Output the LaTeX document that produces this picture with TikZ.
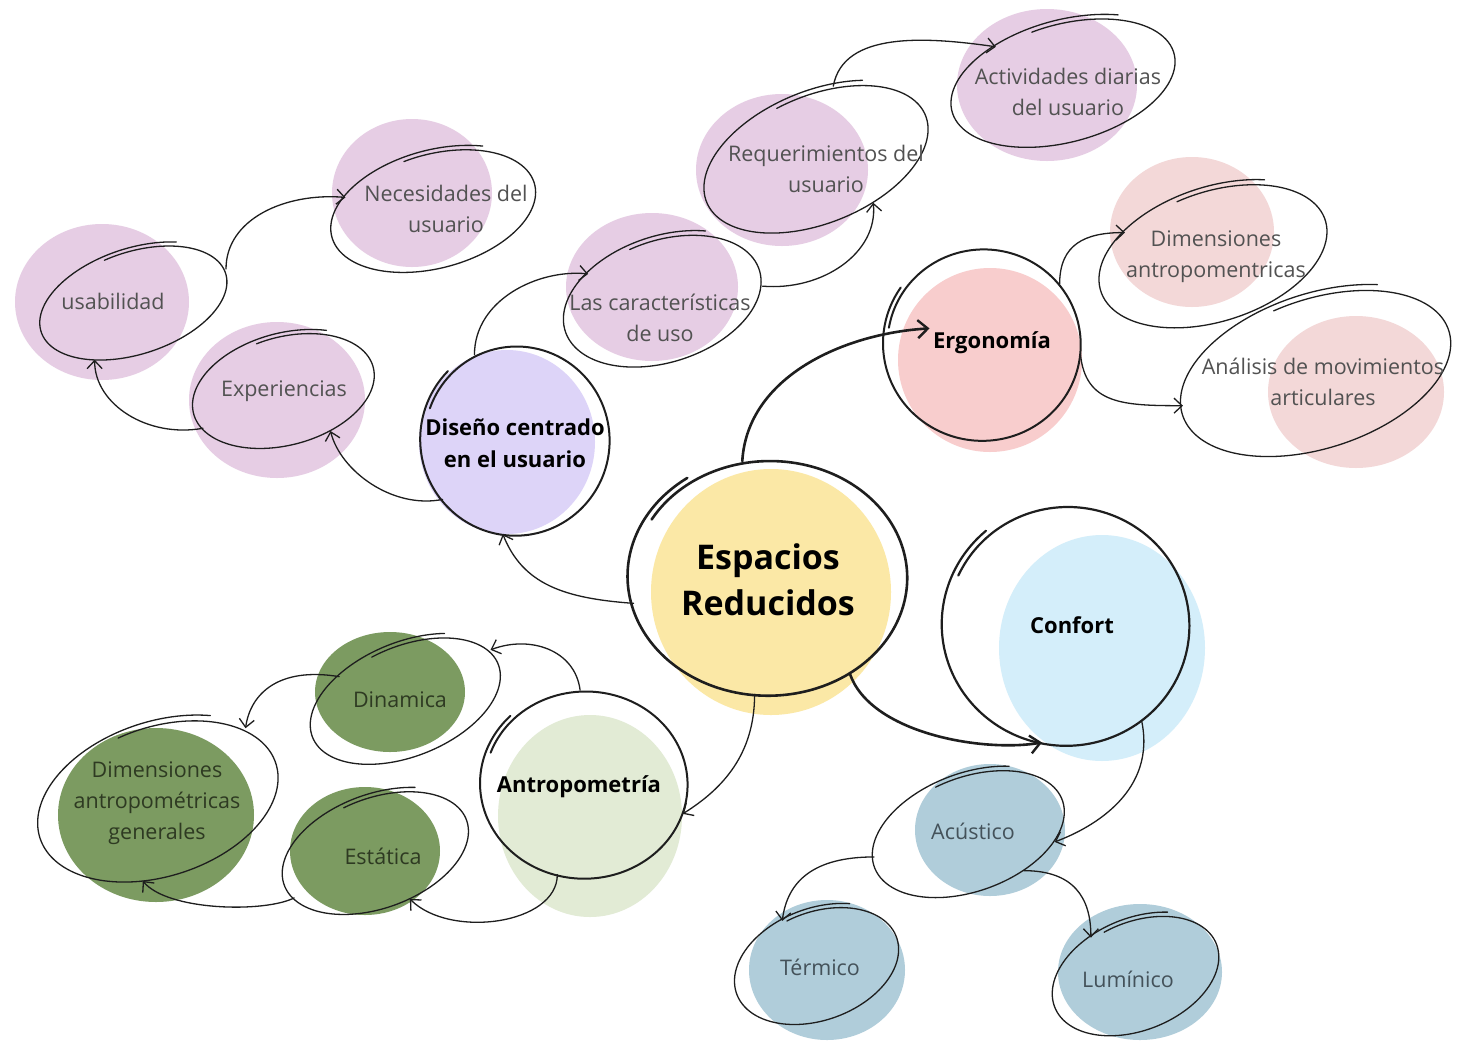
\documentclass[tikz,border=0pt]{standalone}
\usepackage{fontspec}
\setmainfont{Open Sans}
\usetikzlibrary{shapes.geometric,arrows.meta}
\definecolor{purp}{HTML}{E6CDE4}
\definecolor{lav}{HTML}{DDD4F8}
\definecolor{pinkA}{HTML}{F8CDCD}
\definecolor{pinkB}{HTML}{F3D8D8}
\definecolor{yell}{HTML}{FBE8A6}
\definecolor{skyb}{HTML}{D4EEFA}
\definecolor{paleg}{HTML}{E2EBD5}
\definecolor{darkg}{HTML}{7C9B61}
\definecolor{blueg}{HTML}{B0CDDA}
\definecolor{txtgray}{HTML}{525252}
\definecolor{txtgreen}{HTML}{2E3A22}
\definecolor{txtblue}{HTML}{44525A}
\definecolor{ink}{HTML}{1E1E1E}
% hand drawn oval: cx, cy, rx, ry, rotation, start angle, line width, sweep, amplitude
\newcommand{\handoval}[9]{%
  \begin{scope}[shift={(#1,#2)},rotate=#5]
    \draw[line width=#7,line cap=round,ink] plot[smooth,domain=#6:#6+#8,samples=120,variable=\t]
      ({#3*(1+#9/2-#9*(\t-(#6))/#8)*cos(\t)},{-#4*(1+#9/2-#9*(\t-(#6))/#8)*sin(\t)});
  \end{scope}}
\begin{document}
\begin{tikzpicture}[x=1pt,y=-1pt,
  shp/.style={ellipse,draw=none,inner sep=0pt,outer sep=0pt},
  lbl/.style={align=center,font=\fontsize{21.5}{31}\selectfont,text=txtgray},
  glbl/.style={lbl,text=txtgreen},
  blbl/.style={lbl,text=txtblue},
  bold/.style={align=center,font=\fontsize{22}{32}\selectfont\bfseries,text=black},
  arr/.style={line width=1.3pt,line cap=round,ink,-{Straight Barb[length=8pt,width=15pt,line width=1.3pt]}},
  tarr/.style={line width=2.6pt,line cap=round,ink,-{Straight Barb[length=10pt,width=18pt,line width=2.4pt]}}]
\fill[white] (0,0) rectangle (1459,1045);
\useasboundingbox (0,0) rectangle (1459,1045);

% ---------- blobs ----------
\fill[purp] (102,302) ellipse [x radius=87,y radius=78];
\fill[purp] (412,193) ellipse [x radius=80,y radius=74];
\fill[purp] (277,400) ellipse [x radius=88,y radius=78];
\fill[lav] (507,442) ellipse [x radius=88,y radius=92];
\fill[purp] (652,287) ellipse [x radius=86,y radius=74];
\fill[purp] (782,170) ellipse [x radius=86,y radius=76];
\fill[purp] (1047,85) ellipse [x radius=90,y radius=76];
\fill[pinkA] (990,360) ellipse [x radius=92,y radius=92];
\fill[pinkB] (1192,232) ellipse [x radius=82,y radius=75];
\fill[pinkB] (1356,392) ellipse [x radius=88,y radius=76];
\fill[yell] (771,592) ellipse [x radius=120,y radius=123];
\fill[skyb] (1102,648) ellipse [x radius=103,y radius=113];
\fill[paleg] (590,816) ellipse [x radius=92,y radius=101];
\fill[darkg] (390,692) ellipse [x radius=75,y radius=60];
\fill[darkg] (156,815) ellipse [x radius=98,y radius=87];
\fill[darkg] (365,851) ellipse [x radius=75,y radius=64];
\fill[blueg] (990,830) ellipse [x radius=75,y radius=66];
\fill[blueg] (827,970) ellipse [x radius=78,y radius=70];
\fill[blueg] (1140,972) ellipse [x radius=82,y radius=68];

% ---------- hand drawn outlines ----------
\handoval{135}{302}{97}{52}{18}{55}{1.3pt}{405}{0.08}
\handoval{435}{210}{105}{58}{15}{55}{1.3pt}{405}{0.08}
\handoval{285}{390}{93}{55}{15}{55}{1.3pt}{405}{0.08}
\handoval{516}{440}{94}{95}{0}{135}{2.0pt}{385}{0.05}
\handoval{664}{300}{102}{62}{18}{55}{1.3pt}{405}{0.08}
\handoval{818}{158}{118}{65}{22}{55}{1.3pt}{405}{0.08}
\handoval{1065}{82}{115}{60}{15}{55}{1.3pt}{405}{0.08}
\handoval{983}{344}{98}{96}{0}{145}{2.0pt}{385}{0.05}
\handoval{1215}{255}{118}{66}{18}{55}{1.3pt}{405}{0.08}
\handoval{1318}{372}{140}{76}{18}{55}{1.3pt}{405}{0.08}
\handoval{769}{577}{139}{118}{0}{125}{2.6pt}{385}{0.05}
\handoval{1067}{625}{123}{120}{0}{130}{2.2pt}{385}{0.05}
\handoval{585}{784}{103}{94}{0}{135}{2.0pt}{385}{0.05}
\handoval{407}{700}{100}{56}{22}{55}{1.3pt}{405}{0.08}
\handoval{160}{800}{124}{76}{18}{55}{1.3pt}{405}{0.08}
\handoval{377}{852}{97}{56}{20}{55}{1.3pt}{405}{0.08}
\handoval{970}{833}{100}{58}{20}{55}{1.3pt}{405}{0.08}
\handoval{818}{965}{85}{55}{20}{55}{1.3pt}{405}{0.08}
\handoval{1137}{975}{87}{55}{22}{55}{1.3pt}{405}{0.08}

% ---------- shape nodes (outline geometry) ----------
\node[shp,minimum width=194pt,minimum height=104pt,rotate=18] (usab) at (135,302) {};
\node[shp,minimum width=210pt,minimum height=116pt,rotate=15] (neces) at (435,210) {};
\node[shp,minimum width=186pt,minimum height=110pt,rotate=15] (exper) at (285,390) {};
\node[shp,minimum width=188pt,minimum height=190pt] (diseno) at (516,440) {};
\node[shp,minimum width=204pt,minimum height=124pt,rotate=18] (caract) at (664,300) {};
\node[shp,minimum width=236pt,minimum height=130pt,rotate=22] (reque) at (818,158) {};
\node[shp,minimum width=230pt,minimum height=120pt,rotate=15] (activ) at (1065,82) {};
\node[shp,minimum width=196pt,minimum height=192pt] (ergo) at (983,344) {};
\node[shp,minimum width=236pt,minimum height=132pt,rotate=18] (dimA) at (1215,255) {};
\node[shp,minimum width=280pt,minimum height=152pt,rotate=18] (anal) at (1318,372) {};
\node[shp,minimum width=278pt,minimum height=236pt] (esp) at (769,577) {};
\node[shp,minimum width=246pt,minimum height=240pt] (conf) at (1067,625) {};
\node[shp,minimum width=206pt,minimum height=188pt] (antro) at (585,784) {};
\node[shp,minimum width=200pt,minimum height=112pt,rotate=22] (dina) at (407,700) {};
\node[shp,minimum width=248pt,minimum height=152pt,rotate=18] (dimG) at (160,800) {};
\node[shp,minimum width=194pt,minimum height=112pt,rotate=20] (esta) at (377,852) {};
\node[shp,minimum width=200pt,minimum height=116pt,rotate=20] (acus) at (970,833) {};
\node[shp,minimum width=170pt,minimum height=110pt,rotate=20] (term) at (818,965) {};
\node[shp,minimum width=174pt,minimum height=110pt,rotate=22] (lumi) at (1137,975) {};

% ---------- labels ----------
\node[lbl] (usab-l) at (113,301) {usabilidad};
\node[lbl] (neces-l) at (446,209) {Necesidades del\\usuario};
\node[lbl] (exper-l) at (284,391) {Experiencias};
\node[bold] (diseno-l) at (515,443) {Diseño centrado\\en el usuario};
\node[lbl] (caract-l) at (660,318) {Las características\\de uso};
\node[lbl] (reque-l) at (826,169) {Requerimientos del\\usuario};
\node[lbl] (activ-l) at (1068,92) {Actividades diarias\\del usuario};
\node[bold] (ergo-l) at (992,343) {Ergonomía};
\node[lbl] (dimA-l) at (1216,257) {Dimensiones\\antropomentricas};
\node[lbl] (anal-l) at (1323,382) {Análisis de movimientos\\articulares};
\node[align=center,font=\fontsize{34}{46}\selectfont\bfseries,text=black] (esp-l) at (768,580) {Espacios\\Reducidos};
\node[bold] (conf-l) at (1072,625) {Confort};
\node[bold] (antro-l) at (579,787) {Antropometría};
\node[glbl] (dina-l) at (400,700) {Dinamica};
\node[glbl] (dimG-l) at (157,803) {Dimensiones\\antropométricas\\generales};
\node[glbl] (esta-l) at (383,856) {Estática};
\node[blbl] (acus-l) at (973,831) {Acústico};
\node[blbl] (term-l) at (820,967) {Térmico};
\node[blbl] (lumi-l) at (1128,979) {Lumínico};

% ---------- connectors ----------
\draw[arr] (esp.191) .. controls +(-70,-5) and +(20,50) .. (diseno.262);
\draw[tarr] (esp.103) .. controls +(5,-85) and +(-85,5) .. (ergo-l.north west);
\draw[tarr] (esp.-50) .. controls +(20,60) and +(-60,10) .. (conf.258);
\draw[arr] (esp.263) .. controls +(0,60) and +(40,-25) .. (antro.-17);
\draw[arr] (diseno.219) .. controls +(-50,10) and +(10,40) .. (exper.-57);
\draw[arr] (diseno.116) .. controls +(0,-55) and +(-50,-5) .. (caract.143);
\draw[arr] (exper.190) .. controls +(-55,10) and +(0,45) .. (usab.217);
\draw[arr] (usab.2) .. controls +(0,-50) and +(-60,-5) .. (neces.157);
\draw[arr] (caract.-10) .. controls +(60,5) and +(5,50) .. (reque.-61);
\draw[arr] (reque.56) .. controls +(10,-55) and +(-70,-10) .. (activ.138);
\draw[arr] (ergo.38) .. controls +(0,-40) and +(-40,0) .. (dimA.148);
\draw[arr] (ergo.-6) .. controls +(5,50) and +(-60,0) .. (anal.176);
\draw[arr] (conf.-52) .. controls +(15,70) and +(40,-15) .. (acus.-26);
\draw[arr] (acus.174) .. controls +(-60,0) and +(5,-40) .. (term.109);
\draw[arr] (acus.-55) .. controls +(50,0) and +(0,-40) .. (lumi.119);
\draw[arr] (antro.93) .. controls +(-5,-40) and +(40,-15) .. (dina.9);
\draw[arr] (antro.253) .. controls +(0,50) and +(40,40) .. (esta.-75);
\draw[arr] (dina.139) .. controls +(-60,-10) and +(5,-35) .. (dimG.22);
\draw[arr] (esta.189) .. controls +(-30,15) and +(25,30) .. (dimG.240);
\end{tikzpicture}
\end{document}
